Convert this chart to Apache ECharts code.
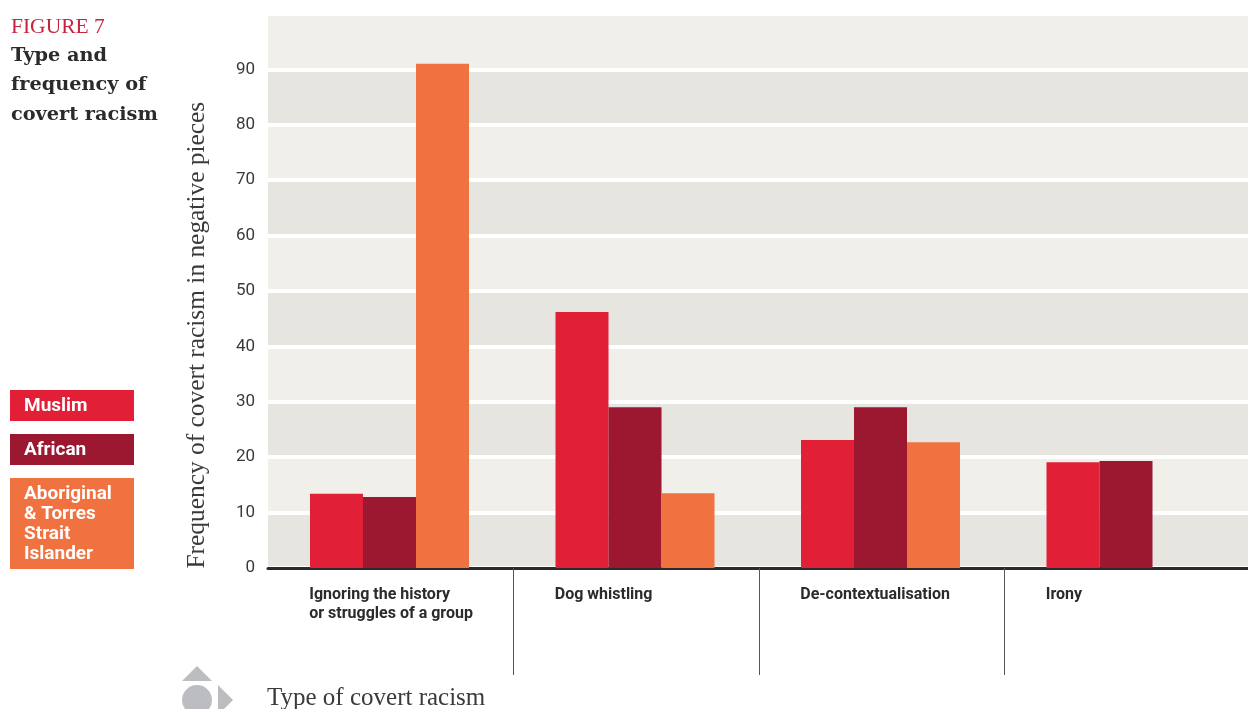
<!DOCTYPE html>
<html>
<head>
<meta charset="utf-8">
<style>html,body{margin:0;padding:0;background:#fff}#chart{width:1248px;height:709px}</style>
<script src="https://cdn.jsdelivr.net/npm/echarts@6/dist/echarts.min.js"></script>
</head>
<body>
<div id="chart"></div>
<script>
// Covert racism in negative pieces, by type and by group targeted
const categories = [
  'Ignoring the history\nor struggles of a group',
  'Dog whistling',
  'De-contextualisation',
  'Irony'
];
const muslim = [13.4, 46.2, 23.1, 19.1];
const african = [12.8, 29, 29, 19.3];
const aboriginal = [91, 13.5, 22.7, null];
const yTickStep = 10;
const yMax = 100;

const SLAB = '"DejaVu Serif"';
const SERIF = '"Liberation Serif"';
const SANS = 'Roboto';
const INK = '#2b2a2c';
const RED = '#e11f37';
const WINE = '#9c1730';
const ORANGE = '#f07241';
const ICON = '#bcbdc1';

function barSeries(name, data, color) {
  return { name, type: 'bar', data, barWidth: 53, barGap: 0, itemStyle: { color }, z: 2 };
}

function legendKey(y, h, color, lines) {
  return [
    { type: 'rect', shape: { x: 10, y, width: 124, height: h }, style: { fill: color } },
    { type: 'text', x: 24, y: y + 6, style: { text: lines, fill: '#fff', font: 'bold 19px ' + SANS, lineHeight: 20, textVerticalAlign: 'top' } }
  ];
}

const chart = echarts.init(document.getElementById('chart'), null, { renderer: 'canvas' });
chart.setOption({
  animation: false,
  backgroundColor: '#fff',
  grid: { left: 268, top: 14, right: -2, bottom: 141, outerBoundsMode: 'none' },
  xAxis: {
    type: 'category',
    data: categories,
    axisLine: { lineStyle: { color: INK, width: 3 } },
    axisTick: { show: true, length: 107, lineStyle: { color: '#555', width: 1 }, interval: (i) => i > 0 },
    splitLine: { show: false },
    axisLabel: {
      interval: 0,
      margin: 17,
      align: 'center',
      verticalAlign: 'top',
      formatter: (v) => v.split('\n').map((s) => '{a|' + s + '}').join('\n'),
      rich: {
        a: { width: 163, align: 'left', fontFamily: SANS, fontWeight: 'bold', fontSize: 16, color: INK, lineHeight: 19 }
      }
    }
  },
  yAxis: {
    type: 'value',
    min: 0,
    max: yMax,
    interval: yTickStep,
    axisLine: { show: false },
    axisTick: { show: false },
    axisLabel: { margin: 13, showMaxLabel: false, color: '#3a393b', fontFamily: SANS, fontSize: 17, padding: [2, 0, 0, 0] },
    splitLine: { show: true, lineStyle: { color: '#fff', width: 4 } },
    splitArea: { show: true, areaStyle: { color: ['#e6e5df', '#f0efe9'], opacity: 1 } }
  },
  series: [
    barSeries('Muslim', muslim, RED),
    barSeries('African', african, WINE),
    barSeries('Aboriginal & Torres Strait Islander', aboriginal, ORANGE),
    // Narrow empty slot that nudges each bar group left of its band centre
    { type: 'bar', data: [], barWidth: 2.5, barGap: 0, silent: true }
  ],
  graphic: [
    { type: 'text', x: 11, y: 16, style: { text: 'FIGURE 7', fill: '#c4243f', font: '21.5px ' + SERIF, textVerticalAlign: 'top' } },
    { type: 'text', x: 11, y: 41, style: { text: 'Type and\nfrequency of\ncovert racism', fill: INK, font: 'bold 19.3px ' + SLAB, lineHeight: 29.5, textVerticalAlign: 'top' } },
    ...legendKey(390, 31, RED, 'Muslim'),
    ...legendKey(434, 31, WINE, 'African'),
    ...legendKey(478, 91, ORANGE, 'Aboriginal\n& Torres\nStrait\nIslander'),
    { type: 'text', x: 197, y: 568.5, rotation: Math.PI / 2, style: { text: 'Frequency of covert racism in negative pieces', fill: '#3a393b', font: '25.4px ' + SERIF, textAlign: 'left', textVerticalAlign: 'middle' } },
    { type: 'text', x: 267, y: 686, style: { text: 'Type of covert racism', fill: '#3a393b', font: '25px ' + SERIF, textVerticalAlign: 'top' } },
    { type: 'polygon', shape: { points: [[197, 666], [212, 681], [182, 681]] }, style: { fill: ICON } },
    { type: 'circle', shape: { cx: 197, cy: 700, r: 15 }, style: { fill: ICON } },
    { type: 'polygon', shape: { points: [[218, 685], [233, 700], [218, 715]] }, style: { fill: ICON } }
  ]
});
</script>
</body>
</html>
